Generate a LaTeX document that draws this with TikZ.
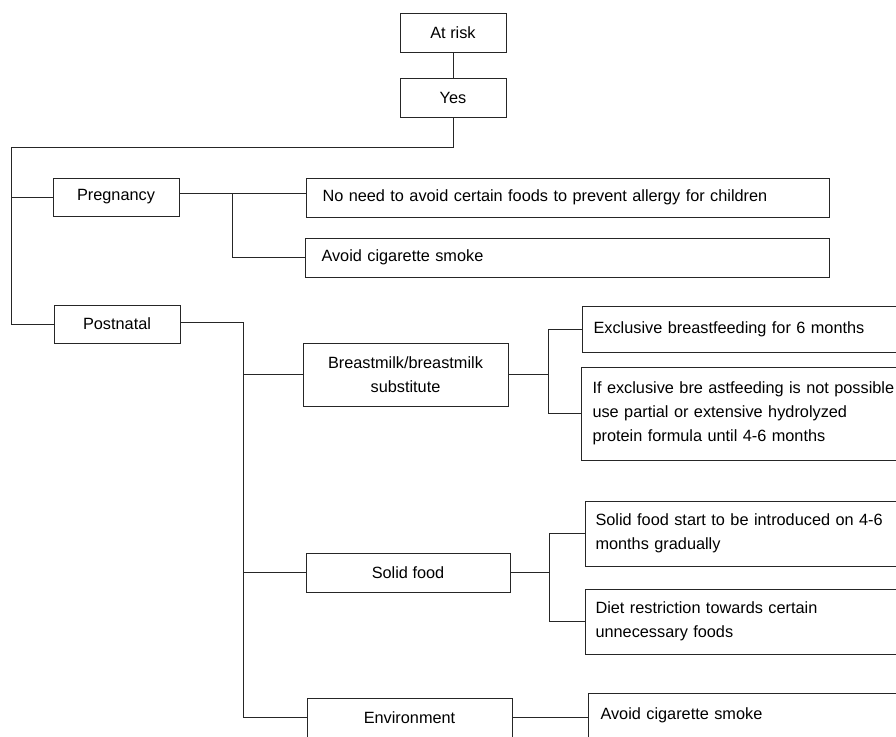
\documentclass[tikz,border=0pt]{standalone}
\usepackage{fontspec}
\setmainfont{Liberation Sans}
\begin{document}
\begin{tikzpicture}[x=1pt,y=-1pt,
  every node/.style={font=\fontsize{16.3}{24}\selectfont, text=black},
  box/.style={draw=black!85, line width=1pt, rectangle, inner sep=0pt, align=center},
  lbox/.style={draw=black!85, line width=1pt, rectangle, inner ysep=0pt, align=left, anchor=west},
  conn/.style={draw=black!85, line width=1pt}]
\useasboundingbox (0,0) rectangle (896,736);
\clip (0,0) rectangle (896,736);
\fill[white] (0,0) rectangle (896,736);
% top
\node[box, minimum width=106pt, minimum height=39pt] (atrisk) at (453,32.5) {At risk};
\node[box, minimum width=106pt, minimum height=39pt] (yes) at (453,97.5) {Yes};
% level 1
\node[box, minimum width=126pt, minimum height=38pt] (preg) at (116,197) {Pregnancy};
\node[box, minimum width=126pt, minimum height=38pt] (post) at (117,324) {Postnatal};
% pregnancy children
\node[lbox, inner xsep=16pt, text width=491pt, minimum height=39pt] (nn) at (306,197.5) {No need to avoid certain foods to prevent allergy for children};
\node[lbox, inner xsep=16pt, text width=492pt, minimum height=39pt] (acs1) at (305,257.5) {Avoid cigarette smoke};
% postnatal children
\node[box, minimum width=205pt, minimum height=63pt] (bm) at (405.5,374.5) {Breastmilk/breastmilk\\substitute};
\node[box, minimum width=204pt, minimum height=39pt] (sf) at (408,572.5) {Solid food};
\node[box, minimum width=205pt, minimum height=39pt] (env) at (409.5,717.5) {Environment};
% leaves
\node[lbox, inner xsep=11pt, text width=340pt, minimum height=46pt] (ex) at (582,329) {Exclusive breastfeeding for 6 months};
\node[lbox, inner xsep=11pt, text width=340pt, minimum height=93pt] (ifex) at (581,413.5) {If exclusive bre astfeeding is not possible\\use partial or extensive hydrolyzed\\protein formula until 4-6 months};
\node[lbox, inner xsep=10pt, text width=340pt, minimum height=65pt] (sfs) at (585,533.5) {Solid food start to be introduced on 4-6\\months gradually};
\node[lbox, inner xsep=10pt, text width=340pt, minimum height=65pt] (diet) at (585,621.5) {Diet restriction towards certain\\unnecessary foods};
\node[lbox, inner xsep=12pt, text width=340pt, minimum height=44pt] (acs2) at (588,715) {Avoid cigarette smoke};
% connectors
\coordinate (tl) at (11,147);
\coordinate (pb) at (232,193);
\coordinate (pt) at (243,322);
\path (bm.east) ++(40,0) coordinate (bb);
\path (sf.east) ++(39,0) coordinate (sb);
\draw[conn] (atrisk.south) -- (yes.north);
\draw[conn] (yes.south) |- (tl) |- (post.west);
\draw[conn] (tl |- preg.west) -- (preg.west);
\draw[conn] (preg.east |- pb) -- (pb -| nn.west);
\draw[conn] (pb) |- (acs1.west);
\draw[conn] (post.east |- pt) -- (pt) |- (env.west);
\draw[conn] (pt |- bm.west) -- (bm.west);
\draw[conn] (pt |- sf.west) -- (sf.west);
\draw[conn] (bm.east) -- (bb);
\draw[conn] (ex.west) -| (bb) |- (ifex.west);
\draw[conn] (sf.east) -- (sb);
\draw[conn] (sfs.west) -| (sb) |- (diet.west);
\draw[conn] (env.east) -- (env.east -| acs2.west);
\end{tikzpicture}
\end{document}
